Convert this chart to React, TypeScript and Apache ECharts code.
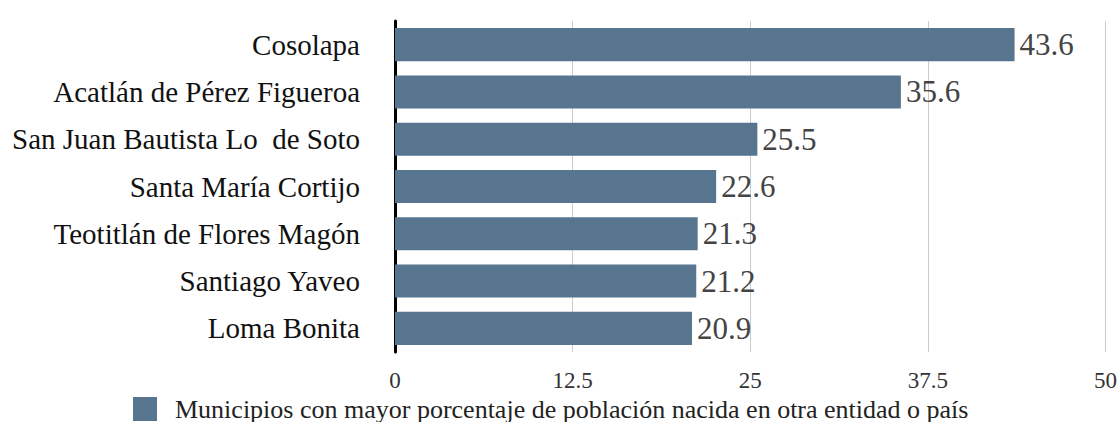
import React, { useEffect, useRef } from "react";
import * as echarts from "echarts";

const municipios = [
  "Cosolapa",
  "Acatlán de Pérez Figueroa",
  "San Juan Bautista Lo  de Soto",
  "Santa María Cortijo",
  "Teotitlán de Flores Magón",
  "Santiago Yaveo",
  "Loma Bonita",
];
const porcentajes = [43.6, 35.6, 25.5, 22.6, 21.3, 21.2, 20.9];
const serieNombre =
  "Municipios con mayor porcentaje de población nacida en otra entidad o país";
const ejeMin = 0;
const ejeMax = 50;
const ejeIntervalo = 12.5;

const FONT = "Liberation Serif, Times New Roman, serif";

export default function App() {
  const ref = useRef<HTMLDivElement>(null);

  useEffect(() => {
    if (!ref.current) return;
    const chart = echarts.init(ref.current, undefined, { renderer: "svg" });
    chart.setOption({
      animation: false,
      backgroundColor: "#ffffff",
      textStyle: { fontFamily: FONT },
      grid: { left: 395, right: 13, top: 21, bottom: 70, containLabel: false },
      legend: {
        left: 133,
        top: 396,
        padding: 0,
        itemWidth: 24,
        itemHeight: 24,
        icon: "rect",
        textStyle: {
          fontFamily: FONT,
          fontSize: 26,
          lineHeight: 24,
          color: "#222",
          padding: [0, 0, 0, 13],
        },
        data: [serieNombre],
      },
      xAxis: {
        type: "value",
        min: ejeMin,
        max: ejeMax,
        interval: ejeIntervalo,
        axisLine: { show: false },
        axisTick: { show: false },
        splitLine: { show: true, lineStyle: { color: "#cccccc", width: 1 } },
        axisLabel: {
          fontFamily: FONT,
          fontSize: 23,
          color: "#333",
          margin: 17,
        },
      },
      yAxis: {
        type: "category",
        inverse: true,
        data: municipios,
        axisTick: { show: false },
        axisLine: { show: true, lineStyle: { color: "#000000", width: 3 } },
        axisLabel: {
          fontFamily: FONT,
          fontSize: 29,
          color: "#111",
          margin: 35,
        },
      },
      series: [
        {
          name: serieNombre,
          type: "bar",
          data: porcentajes,
          barCategoryGap: "30%",
          itemStyle: { color: "#57758f" },
          label: {
            show: true,
            position: "right",
            distance: 5,
            fontFamily: FONT,
            fontSize: 31,
            color: "#444",
          },
        },
      ],
    });
    return () => chart.dispose();
  }, []);

  return (
    <div
      ref={ref}
      style={{ position: "fixed", left: 0, top: 0, width: 1120, height: 422 }}
    />
  );
}
